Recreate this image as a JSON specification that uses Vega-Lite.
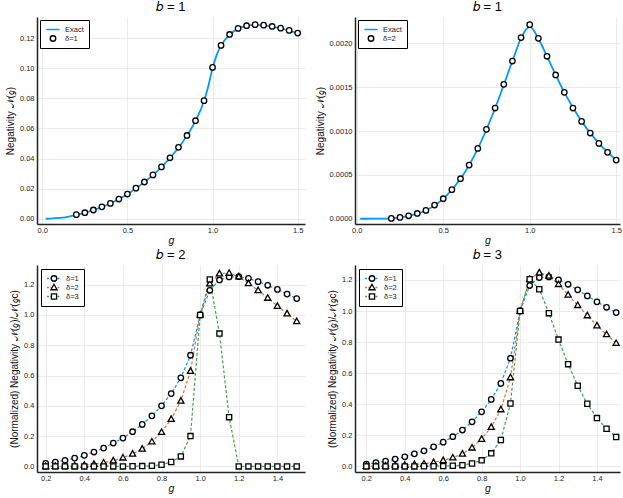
{
  "$schema": "https://vega.github.io/schema/vega-lite/v6.json",
  "padding": {"left": 5, "top": 1, "right": 1, "bottom": 2},
  "bounds": "flush",
  "columns": 2,
  "spacing": {"row": 41, "column": 50},
  "resolve": {
    "scale": {"shape": "independent", "stroke": "independent"},
    "legend": {"shape": "independent", "stroke": "independent"}
  },
  "datasets": {
    "b1exact": [
      {"g": 0.02, "N": 0.0}, {"g": 0.05, "N": 0.0001}, {"g": 0.1, "N": 0.0005}, {"g": 0.15, "N": 0.0013},
      {"g": 0.2, "N": 0.0025}, {"g": 0.3, "N": 0.0057}, {"g": 0.4, "N": 0.0101}, {"g": 0.5, "N": 0.0163},
      {"g": 0.6, "N": 0.0243}, {"g": 0.7, "N": 0.0343}, {"g": 0.8, "N": 0.0472}, {"g": 0.85, "N": 0.0552},
      {"g": 0.9, "N": 0.065}, {"g": 0.95, "N": 0.0782}, {"g": 0.975, "N": 0.088}, {"g": 1.0, "N": 0.1},
      {"g": 1.025, "N": 0.109}, {"g": 1.05, "N": 0.115}, {"g": 1.1, "N": 0.1222}, {"g": 1.15, "N": 0.1263},
      {"g": 1.2, "N": 0.1281}, {"g": 1.25, "N": 0.1288}, {"g": 1.3, "N": 0.1285}, {"g": 1.4, "N": 0.1265},
      {"g": 1.5, "N": 0.1232}
    ],
    "b1d1": [
      {"g": 0.2, "N": 0.0027, "s": "δ=1"}, {"g": 0.25, "N": 0.004, "s": "δ=1"}, {"g": 0.3, "N": 0.0058, "s": "δ=1"},
      {"g": 0.35, "N": 0.0079, "s": "δ=1"}, {"g": 0.4, "N": 0.0102, "s": "δ=1"}, {"g": 0.45, "N": 0.0131, "s": "δ=1"},
      {"g": 0.5, "N": 0.0164, "s": "δ=1"}, {"g": 0.55, "N": 0.0203, "s": "δ=1"}, {"g": 0.6, "N": 0.0244, "s": "δ=1"},
      {"g": 0.65, "N": 0.0291, "s": "δ=1"}, {"g": 0.7, "N": 0.0344, "s": "δ=1"}, {"g": 0.75, "N": 0.0405, "s": "δ=1"},
      {"g": 0.8, "N": 0.0474, "s": "δ=1"}, {"g": 0.85, "N": 0.0553, "s": "δ=1"}, {"g": 0.9, "N": 0.0651, "s": "δ=1"},
      {"g": 0.95, "N": 0.0784, "s": "δ=1"}, {"g": 1.0, "N": 0.1005, "s": "δ=1"}, {"g": 1.05, "N": 0.1151, "s": "δ=1"},
      {"g": 1.1, "N": 0.1224, "s": "δ=1"}, {"g": 1.15, "N": 0.1264, "s": "δ=1"}, {"g": 1.2, "N": 0.1282, "s": "δ=1"},
      {"g": 1.25, "N": 0.1289, "s": "δ=1"}, {"g": 1.3, "N": 0.1286, "s": "δ=1"}, {"g": 1.35, "N": 0.1277, "s": "δ=1"},
      {"g": 1.4, "N": 0.1266, "s": "δ=1"}, {"g": 1.45, "N": 0.1251, "s": "δ=1"}, {"g": 1.5, "N": 0.1233, "s": "δ=1"}
    ],
    "b1exact2": [
      {"g": 0.02, "N": 0.0}, {"g": 0.1, "N": 0.000001}, {"g": 0.2, "N": 0.000005}, {"g": 0.3, "N": 0.000033},
      {"g": 0.4, "N": 0.000094}, {"g": 0.5, "N": 0.000227}, {"g": 0.6, "N": 0.000455}, {"g": 0.7, "N": 0.0008},
      {"g": 0.8, "N": 0.00126}, {"g": 0.9, "N": 0.001797}, {"g": 0.95, "N": 0.00206}, {"g": 1.0, "N": 0.00219},
      {"g": 1.05, "N": 0.002055}, {"g": 1.1, "N": 0.00185}, {"g": 1.2, "N": 0.00144}, {"g": 1.3, "N": 0.00111},
      {"g": 1.4, "N": 0.000859}, {"g": 1.5, "N": 0.000669}
    ],
    "b1d2": [
      {"g": 0.2, "N": 0.000004, "s": "δ=2"}, {"g": 0.25, "N": 0.000015, "s": "δ=2"}, {"g": 0.3, "N": 0.000034, "s": "δ=2"},
      {"g": 0.35, "N": 0.00006, "s": "δ=2"}, {"g": 0.4, "N": 0.000095, "s": "δ=2"}, {"g": 0.45, "N": 0.000156, "s": "δ=2"},
      {"g": 0.5, "N": 0.000228, "s": "δ=2"}, {"g": 0.55, "N": 0.000331, "s": "δ=2"}, {"g": 0.6, "N": 0.000456, "s": "δ=2"},
      {"g": 0.65, "N": 0.000612, "s": "δ=2"}, {"g": 0.7, "N": 0.000802, "s": "δ=2"}, {"g": 0.75, "N": 0.001019, "s": "δ=2"},
      {"g": 0.8, "N": 0.001262, "s": "δ=2"}, {"g": 0.85, "N": 0.001532, "s": "δ=2"}, {"g": 0.9, "N": 0.001798, "s": "δ=2"},
      {"g": 0.95, "N": 0.002065, "s": "δ=2"}, {"g": 1.0, "N": 0.002213, "s": "δ=2"}, {"g": 1.05, "N": 0.002057, "s": "δ=2"},
      {"g": 1.1, "N": 0.001852, "s": "δ=2"}, {"g": 1.15, "N": 0.001639, "s": "δ=2"}, {"g": 1.2, "N": 0.001441, "s": "δ=2"},
      {"g": 1.25, "N": 0.001262, "s": "δ=2"}, {"g": 1.3, "N": 0.00111, "s": "δ=2"}, {"g": 1.35, "N": 0.000977, "s": "δ=2"},
      {"g": 1.4, "N": 0.000859, "s": "δ=2"}, {"g": 1.45, "N": 0.000757, "s": "δ=2"}, {"g": 1.5, "N": 0.000669, "s": "δ=2"}
    ],
    "b2": [
      {"g": 0.2, "N": 0.02, "s": "δ=1"}, {"g": 0.25, "N": 0.029, "s": "δ=1"}, {"g": 0.3, "N": 0.04, "s": "δ=1"},
      {"g": 0.35, "N": 0.055, "s": "δ=1"}, {"g": 0.4, "N": 0.073, "s": "δ=1"}, {"g": 0.45, "N": 0.095, "s": "δ=1"},
      {"g": 0.5, "N": 0.121, "s": "δ=1"}, {"g": 0.55, "N": 0.154, "s": "δ=1"}, {"g": 0.6, "N": 0.187, "s": "δ=1"},
      {"g": 0.65, "N": 0.229, "s": "δ=1"}, {"g": 0.7, "N": 0.277, "s": "δ=1"}, {"g": 0.75, "N": 0.334, "s": "δ=1"},
      {"g": 0.8, "N": 0.4, "s": "δ=1"}, {"g": 0.85, "N": 0.481, "s": "δ=1"}, {"g": 0.9, "N": 0.585, "s": "δ=1"},
      {"g": 0.95, "N": 0.734, "s": "δ=1"}, {"g": 1.0, "N": 1.0, "s": "δ=1"}, {"g": 1.05, "N": 1.163, "s": "δ=1"},
      {"g": 1.1, "N": 1.231, "s": "δ=1"}, {"g": 1.15, "N": 1.251, "s": "δ=1"}, {"g": 1.2, "N": 1.253, "s": "δ=1"},
      {"g": 1.25, "N": 1.242, "s": "δ=1"}, {"g": 1.3, "N": 1.22, "s": "δ=1"}, {"g": 1.35, "N": 1.196, "s": "δ=1"},
      {"g": 1.4, "N": 1.169, "s": "δ=1"}, {"g": 1.45, "N": 1.138, "s": "δ=1"}, {"g": 1.5, "N": 1.108, "s": "δ=1"},
      {"g": 0.2, "N": 0.001, "s": "δ=2"}, {"g": 0.25, "N": 0.002, "s": "δ=2"}, {"g": 0.3, "N": 0.003, "s": "δ=2"},
      {"g": 0.35, "N": 0.005, "s": "δ=2"}, {"g": 0.4, "N": 0.009, "s": "δ=2"}, {"g": 0.45, "N": 0.015, "s": "δ=2"},
      {"g": 0.5, "N": 0.024, "s": "δ=2"}, {"g": 0.55, "N": 0.038, "s": "δ=2"}, {"g": 0.6, "N": 0.057, "s": "δ=2"},
      {"g": 0.65, "N": 0.083, "s": "δ=2"}, {"g": 0.7, "N": 0.116, "s": "δ=2"}, {"g": 0.75, "N": 0.163, "s": "δ=2"},
      {"g": 0.8, "N": 0.226, "s": "δ=2"}, {"g": 0.85, "N": 0.312, "s": "δ=2"}, {"g": 0.9, "N": 0.433, "s": "δ=2"},
      {"g": 0.95, "N": 0.629, "s": "δ=2"}, {"g": 1.0, "N": 1.0, "s": "δ=2"}, {"g": 1.05, "N": 1.207, "s": "δ=2"},
      {"g": 1.1, "N": 1.273, "s": "δ=2"}, {"g": 1.15, "N": 1.277, "s": "δ=2"}, {"g": 1.2, "N": 1.253, "s": "δ=2"},
      {"g": 1.25, "N": 1.209, "s": "δ=2"}, {"g": 1.3, "N": 1.163, "s": "δ=2"}, {"g": 1.35, "N": 1.112, "s": "δ=2"},
      {"g": 1.4, "N": 1.059, "s": "δ=2"}, {"g": 1.45, "N": 1.009, "s": "δ=2"}, {"g": 1.5, "N": 0.958, "s": "δ=2"},
      {"g": 0.2, "N": 0.0, "s": "δ=3"}, {"g": 0.25, "N": 0.0, "s": "δ=3"}, {"g": 0.3, "N": 0.0, "s": "δ=3"},
      {"g": 0.35, "N": 0.0, "s": "δ=3"}, {"g": 0.4, "N": 0.0, "s": "δ=3"}, {"g": 0.45, "N": 0.0, "s": "δ=3"},
      {"g": 0.5, "N": 0.0, "s": "δ=3"}, {"g": 0.55, "N": 0.0, "s": "δ=3"}, {"g": 0.6, "N": 0.0, "s": "δ=3"},
      {"g": 0.65, "N": 0.001, "s": "δ=3"}, {"g": 0.7, "N": 0.002, "s": "δ=3"}, {"g": 0.75, "N": 0.004, "s": "δ=3"},
      {"g": 0.8, "N": 0.011, "s": "δ=3"}, {"g": 0.85, "N": 0.029, "s": "δ=3"}, {"g": 0.9, "N": 0.066, "s": "δ=3"},
      {"g": 0.95, "N": 0.2, "s": "δ=3"}, {"g": 1.0, "N": 1.0, "s": "δ=3"}, {"g": 1.05, "N": 1.235, "s": "δ=3"},
      {"g": 1.1, "N": 0.877, "s": "δ=3"}, {"g": 1.15, "N": 0.325, "s": "δ=3"}, {"g": 1.2, "N": 0.0, "s": "δ=3"},
      {"g": 1.25, "N": 0.0, "s": "δ=3"}, {"g": 1.3, "N": 0.0, "s": "δ=3"}, {"g": 1.35, "N": 0.0, "s": "δ=3"},
      {"g": 1.4, "N": 0.0, "s": "δ=3"}, {"g": 1.45, "N": 0.0, "s": "δ=3"}, {"g": 1.5, "N": 0.0, "s": "δ=3"}
    ],
    "b3": [
      {"g": 0.2, "N": 0.015, "s": "δ=1"}, {"g": 0.25, "N": 0.024, "s": "δ=1"}, {"g": 0.3, "N": 0.034, "s": "δ=1"},
      {"g": 0.35, "N": 0.047, "s": "δ=1"}, {"g": 0.4, "N": 0.062, "s": "δ=1"}, {"g": 0.45, "N": 0.081, "s": "δ=1"},
      {"g": 0.5, "N": 0.1, "s": "δ=1"}, {"g": 0.55, "N": 0.126, "s": "δ=1"}, {"g": 0.6, "N": 0.156, "s": "δ=1"},
      {"g": 0.65, "N": 0.191, "s": "δ=1"}, {"g": 0.7, "N": 0.234, "s": "δ=1"}, {"g": 0.75, "N": 0.287, "s": "δ=1"},
      {"g": 0.8, "N": 0.351, "s": "δ=1"}, {"g": 0.85, "N": 0.431, "s": "δ=1"}, {"g": 0.9, "N": 0.534, "s": "δ=1"},
      {"g": 0.95, "N": 0.696, "s": "δ=1"}, {"g": 1.0, "N": 1.0, "s": "δ=1"}, {"g": 1.05, "N": 1.164, "s": "δ=1"},
      {"g": 1.1, "N": 1.215, "s": "δ=1"}, {"g": 1.15, "N": 1.219, "s": "δ=1"}, {"g": 1.2, "N": 1.2, "s": "δ=1"},
      {"g": 1.25, "N": 1.172, "s": "δ=1"}, {"g": 1.3, "N": 1.136, "s": "δ=1"}, {"g": 1.35, "N": 1.097, "s": "δ=1"},
      {"g": 1.4, "N": 1.059, "s": "δ=1"}, {"g": 1.45, "N": 1.024, "s": "δ=1"}, {"g": 1.5, "N": 0.99, "s": "δ=1"},
      {"g": 0.2, "N": 0.002, "s": "δ=2"}, {"g": 0.25, "N": 0.003, "s": "δ=2"}, {"g": 0.3, "N": 0.004, "s": "δ=2"},
      {"g": 0.35, "N": 0.006, "s": "δ=2"}, {"g": 0.4, "N": 0.009, "s": "δ=2"}, {"g": 0.45, "N": 0.013, "s": "δ=2"},
      {"g": 0.5, "N": 0.017, "s": "δ=2"}, {"g": 0.55, "N": 0.026, "s": "δ=2"}, {"g": 0.6, "N": 0.039, "s": "δ=2"},
      {"g": 0.65, "N": 0.056, "s": "δ=2"}, {"g": 0.7, "N": 0.081, "s": "δ=2"}, {"g": 0.75, "N": 0.12, "s": "δ=2"},
      {"g": 0.8, "N": 0.176, "s": "δ=2"}, {"g": 0.85, "N": 0.253, "s": "δ=2"}, {"g": 0.9, "N": 0.366, "s": "δ=2"},
      {"g": 0.95, "N": 0.572, "s": "δ=2"}, {"g": 1.0, "N": 1.0, "s": "δ=2"}, {"g": 1.05, "N": 1.204, "s": "δ=2"},
      {"g": 1.1, "N": 1.247, "s": "δ=2"}, {"g": 1.15, "N": 1.226, "s": "δ=2"}, {"g": 1.2, "N": 1.172, "s": "δ=2"},
      {"g": 1.25, "N": 1.104, "s": "δ=2"}, {"g": 1.3, "N": 1.037, "s": "δ=2"}, {"g": 1.35, "N": 0.971, "s": "δ=2"},
      {"g": 1.4, "N": 0.906, "s": "δ=2"}, {"g": 1.45, "N": 0.849, "s": "δ=2"}, {"g": 1.5, "N": 0.793, "s": "δ=2"},
      {"g": 0.2, "N": 0.0, "s": "δ=3"}, {"g": 0.25, "N": 0.0, "s": "δ=3"}, {"g": 0.3, "N": 0.0, "s": "δ=3"},
      {"g": 0.35, "N": 0.0, "s": "δ=3"}, {"g": 0.4, "N": 0.0, "s": "δ=3"}, {"g": 0.45, "N": 0.0, "s": "δ=3"},
      {"g": 0.5, "N": 0.001, "s": "δ=3"}, {"g": 0.55, "N": 0.001, "s": "δ=3"}, {"g": 0.6, "N": 0.002, "s": "δ=3"},
      {"g": 0.65, "N": 0.004, "s": "δ=3"}, {"g": 0.7, "N": 0.008, "s": "δ=3"}, {"g": 0.75, "N": 0.019, "s": "δ=3"},
      {"g": 0.8, "N": 0.039, "s": "δ=3"}, {"g": 0.85, "N": 0.084, "s": "δ=3"}, {"g": 0.9, "N": 0.17, "s": "δ=3"},
      {"g": 0.95, "N": 0.405, "s": "δ=3"}, {"g": 1.0, "N": 1.0, "s": "δ=3"}, {"g": 1.05, "N": 1.204, "s": "δ=3"},
      {"g": 1.1, "N": 1.14, "s": "δ=3"}, {"g": 1.15, "N": 0.986, "s": "δ=3"}, {"g": 1.2, "N": 0.816, "s": "δ=3"},
      {"g": 1.25, "N": 0.658, "s": "δ=3"}, {"g": 1.3, "N": 0.519, "s": "δ=3"}, {"g": 1.35, "N": 0.403, "s": "δ=3"},
      {"g": 1.4, "N": 0.311, "s": "δ=3"}, {"g": 1.45, "N": 0.242, "s": "δ=3"}, {"g": 1.5, "N": 0.189, "s": "δ=3"}
    ]
  },
  "concat": [
    {
      "width": 268, "height": 207,
      "title": "𝑏 = 1",
      "encoding": {
        "x": {"field": "g", "type": "quantitative", "scale": {"domain": [-0.031, 1.543], "nice": false, "zero": false}, "axis": {"values": [0, 0.5, 1, 1.5], "format": ".1f", "title": "g"}},
        "y": {"field": "N", "type": "quantitative", "scale": {"domain": [-0.0035, 0.134], "nice": false, "zero": false}, "axis": {"values": [0, 0.02, 0.04, 0.06, 0.08, 0.1, 0.12], "format": ".2f", "title": "Negativity 𝒩(𝑔)"}}
      },
      "layer": [
        {
          "data": {"name": "b1exact"},
          "mark": {"type": "line", "color": "#009af9", "strokeWidth": 1.8, "interpolate": "monotone"}
        },
        {
          "data": {"name": "b1d1"},
          "mark": {"type": "point", "filled": true, "fill": "white", "strokeWidth": 1.3, "size": 196, "opacity": 1},
          "encoding": {
            "shape": {"field": "s", "type": "nominal", "scale": {"domain": ["Exact", "δ=1"], "range": ["M-0.95,0L0.95,0", "M-0.39,0A0.39,0.39,0,1,1,0.39,0A0.39,0.39,0,1,1,-0.39,0Z"]},
              "legend": {"orient": "top-left", "offset": 3, "title": null, "strokeColor": "black", "fillColor": "white", "padding": 5, "symbolSize": 196, "symbolStrokeWidth": 1.4, "labelFontSize": 7.5, "labelOffset": 4, "clipHeight": 9, "rowPadding": 0}},
            "stroke": {"field": "s", "type": "nominal", "scale": {"domain": ["Exact", "δ=1"], "range": ["#009af9", "black"]},
              "legend": {"orient": "top-left", "offset": 3, "title": null, "strokeColor": "black", "fillColor": "white", "padding": 5, "symbolSize": 196, "symbolStrokeWidth": 1.4, "labelFontSize": 7.5, "labelOffset": 4, "clipHeight": 9, "rowPadding": 0}}
          }
        }
      ]
    },
    {
      "width": 265, "height": 207,
      "title": "𝑏 = 1",
      "encoding": {
        "x": {"field": "g", "type": "quantitative", "scale": {"domain": [-0.01, 1.522], "nice": false, "zero": false}, "axis": {"values": [0, 0.5, 1, 1.5], "format": ".1f", "title": "g"}},
        "y": {"field": "N", "type": "quantitative", "scale": {"domain": [-0.00006, 0.0023], "nice": false, "zero": false}, "axis": {"values": [0, 0.0005, 0.001, 0.0015, 0.002], "format": ".4f", "title": "Negativity 𝒩(𝑔)"}}
      },
      "layer": [
        {
          "data": {"name": "b1exact2"},
          "mark": {"type": "line", "color": "#009af9", "strokeWidth": 1.8, "interpolate": "monotone"}
        },
        {
          "data": {"name": "b1d2"},
          "mark": {"type": "point", "filled": true, "fill": "white", "strokeWidth": 1.3, "size": 196, "opacity": 1},
          "encoding": {
            "shape": {"field": "s", "type": "nominal", "scale": {"domain": ["Exact", "δ=2"], "range": ["M-0.95,0L0.95,0", "M-0.39,0A0.39,0.39,0,1,1,0.39,0A0.39,0.39,0,1,1,-0.39,0Z"]},
              "legend": {"orient": "top-left", "offset": 3, "title": null, "strokeColor": "black", "fillColor": "white", "padding": 5, "symbolSize": 196, "symbolStrokeWidth": 1.4, "labelFontSize": 7.5, "labelOffset": 4, "clipHeight": 9, "rowPadding": 0}},
            "stroke": {"field": "s", "type": "nominal", "scale": {"domain": ["Exact", "δ=2"], "range": ["#009af9", "black"]},
              "legend": {"orient": "top-left", "offset": 3, "title": null, "strokeColor": "black", "fillColor": "white", "padding": 5, "symbolSize": 196, "symbolStrokeWidth": 1.4, "labelFontSize": 7.5, "labelOffset": 4, "clipHeight": 9, "rowPadding": 0}}
          }
        }
      ]
    },
    {
      "width": 268, "height": 207,
      "title": "𝑏 = 2",
      "data": {"name": "b2"},
      "encoding": {
        "x": {"field": "g", "type": "quantitative", "scale": {"domain": [0.155, 1.543], "nice": false, "zero": false}, "axis": {"values": [0.2, 0.4, 0.6, 0.8, 1, 1.2, 1.4], "format": ".1f", "title": "g"}},
        "y": {"field": "N", "type": "quantitative", "scale": {"domain": [-0.037, 1.33], "nice": false, "zero": false}, "axis": {"values": [0, 0.2, 0.4, 0.6, 0.8, 1, 1.2], "format": ".1f", "title": "(Normalized) Negativity 𝒩(𝑔)/𝒩(𝑔c)"}}
      },
      "layer": [
        {
          "mark": {"type": "line", "strokeWidth": 1.2, "strokeDash": [3, 2]},
          "encoding": {
            "stroke": {"field": "s", "type": "nominal", "scale": {"domain": ["δ=1", "δ=2", "δ=3"], "range": ["#009af9", "#e26f46", "#3da44d"]},
              "legend": {"orient": "top-left", "offset": 4, "title": null, "strokeColor": "black", "fillColor": "white", "padding": 5, "symbolType": "M-1,0L1,0", "symbolDash": [2, 1.5], "symbolSize": 196, "symbolStrokeWidth": 1.3, "labelFontSize": 7.5, "labelOffset": 4, "clipHeight": 9, "rowPadding": 0}}
          }
        },
        {
          "mark": {"type": "point", "filled": true, "fill": "white", "stroke": "black", "strokeWidth": 1.3, "size": 196, "opacity": 1},
          "encoding": {
            "shape": {"field": "s", "type": "nominal", "scale": {"domain": ["δ=1", "δ=2", "δ=3"], "range": ["M-0.39,0A0.39,0.39,0,1,1,0.39,0A0.39,0.39,0,1,1,-0.39,0Z", "M0,-0.46L0.44,0.32L-0.44,0.32Z", "M-0.37,-0.37L0.37,-0.37L0.37,0.37L-0.37,0.37Z"]},
              "legend": {"orient": "none", "legendX": 4, "legendY": 4, "title": null, "padding": 5, "symbolSize": 196, "symbolStrokeWidth": 1.3, "labelFontSize": 7.5, "labelOffset": 4, "labelOpacity": 0, "clipHeight": 9, "rowPadding": 0}}
          }
        }
      ]
    },
    {
      "width": 265, "height": 207,
      "title": "𝑏 = 3",
      "data": {"name": "b3"},
      "encoding": {
        "x": {"field": "g", "type": "quantitative", "scale": {"domain": [0.141, 1.52], "nice": false, "zero": false}, "axis": {"values": [0.2, 0.4, 0.6, 0.8, 1, 1.2, 1.4], "format": ".1f", "title": "g"}},
        "y": {"field": "N", "type": "quantitative", "scale": {"domain": [-0.036, 1.296], "nice": false, "zero": false}, "axis": {"values": [0, 0.2, 0.4, 0.6, 0.8, 1, 1.2], "format": ".1f", "title": "(Normalized) Negativity 𝒩(𝑔)/𝒩(𝑔c)"}}
      },
      "layer": [
        {
          "mark": {"type": "line", "strokeWidth": 1.2, "strokeDash": [3, 2]},
          "encoding": {
            "stroke": {"field": "s", "type": "nominal", "scale": {"domain": ["δ=1", "δ=2", "δ=3"], "range": ["#009af9", "#e26f46", "#3da44d"]},
              "legend": {"orient": "top-left", "offset": 4, "title": null, "strokeColor": "black", "fillColor": "white", "padding": 5, "symbolType": "M-1,0L1,0", "symbolDash": [2, 1.5], "symbolSize": 196, "symbolStrokeWidth": 1.3, "labelFontSize": 7.5, "labelOffset": 4, "clipHeight": 9, "rowPadding": 0}}
          }
        },
        {
          "mark": {"type": "point", "filled": true, "fill": "white", "stroke": "black", "strokeWidth": 1.3, "size": 196, "opacity": 1},
          "encoding": {
            "shape": {"field": "s", "type": "nominal", "scale": {"domain": ["δ=1", "δ=2", "δ=3"], "range": ["M-0.39,0A0.39,0.39,0,1,1,0.39,0A0.39,0.39,0,1,1,-0.39,0Z", "M0,-0.46L0.44,0.32L-0.44,0.32Z", "M-0.37,-0.37L0.37,-0.37L0.37,0.37L-0.37,0.37Z"]},
              "legend": {"orient": "none", "legendX": 4, "legendY": 4, "title": null, "padding": 5, "symbolSize": 196, "symbolStrokeWidth": 1.3, "labelFontSize": 7.5, "labelOffset": 4, "labelOpacity": 0, "clipHeight": 9, "rowPadding": 0}}
          }
        }
      ]
    }
  ],
  "config": {
    "font": "Liberation Sans, DejaVu Sans",
    "view": {"stroke": null},
    "title": {"fontSize": 13, "fontWeight": "normal", "offset": 3, "color": "black"},
    "axis": {
      "domainColor": "#222",
      "domainWidth": 1.5,
      "gridColor": "#e6e6e6",
      "gridWidth": 0.8,
      "ticks": false,
      "labelOverlap": false,
      "labelFontSize": 7.5,
      "labelColor": "#222",
      "labelPadding": 3,
      "titleFontSize": 10,
      "titleFontWeight": "normal",
      "titleColor": "#111"
    },
    "axisX": {"labelPadding": 2, "titlePadding": 2, "titleFontStyle": "italic", "titleFontSize": 10.5},
    "legend": {"labelColor": "#222", "labelFont": "Liberation Sans, DejaVu Sans"}
  }
}
